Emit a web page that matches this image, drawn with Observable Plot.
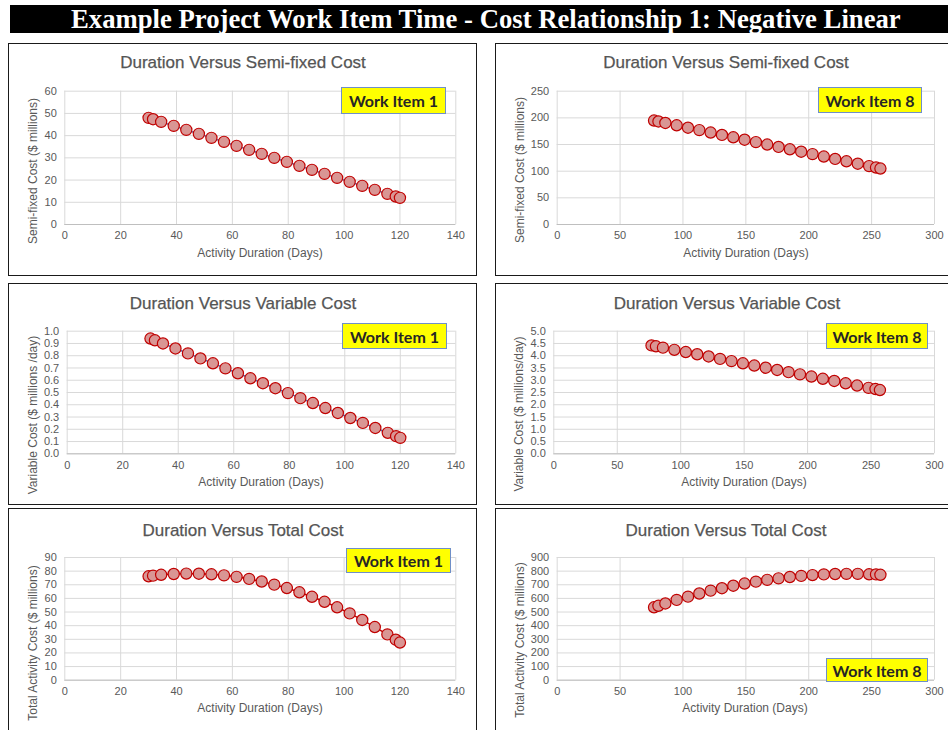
<!DOCTYPE html>
<html>
<head>
<meta charset="utf-8">
<script src="https://cdn.jsdelivr.net/npm/d3@7"></script>
<script src="https://cdn.jsdelivr.net/npm/@observablehq/plot@0.6"></script>
<style>
  html, body { margin: 0; padding: 0; background: #fff; }
  #page { position: relative; width: 948px; height: 730px; overflow: hidden; background: #fff; }
  #banner { position: absolute; left: 10px; top: 5px; width: 938px; height: 28px; background: #000; }
  #banner span { position: absolute; left: 61px; top: 0; line-height: 28px; color: #fff;
    font-family: "Liberation Serif", "Times New Roman", serif; font-weight: bold; font-size: 26.7px; white-space: nowrap; }
  .box { position: absolute; box-sizing: border-box; border: 1.5px solid #1a1a1a; background: #fff; }
  .abs { position: absolute; }
  .ttl { position: absolute; transform: translate(-50%, -50%); white-space: nowrap; color: #555;
    font-family: "Liberation Sans", Arial, sans-serif; font-size: 17px; -webkit-text-stroke: 0.25px #555; }
  .axl { position: absolute; transform: translate(-50%, -50%); white-space: nowrap; color: #595959;
    font-family: "Liberation Sans", Arial, sans-serif; font-size: 12px; }
  .ayl { position: absolute; transform: translate(-50%, -50%) rotate(-90deg); white-space: nowrap; color: #595959;
    font-family: "Liberation Sans", Arial, sans-serif; font-size: 12px; }
  .tag { position: absolute; box-sizing: border-box; background: #ffff00; border: 1px solid #6f8fc8;
    display: flex; align-items: center; justify-content: center; color: #262626;
    font-family: Lato, "Open Sans", sans-serif; font-weight: bold; font-size: 16px; white-space: nowrap; }
</style>
</head>
<body>
<div id="page">
  <div id="banner"><span>Example Project Work Item Time - Cost Relationship 1: Negative Linear</span></div>
</div>
<script>
// ---------- data ----------
const durations1 = [30, 31.6, 34.5, 39, 43.5, 48, 52.5, 57, 61.5, 66, 70.5, 75, 79.5, 84, 88.5, 93, 97.5, 102, 106.5, 111, 115.5, 118.5, 120];
const semiFixed1 = [48, 47.4, 46.2, 44.4, 42.6, 40.8, 39, 37.2, 35.4, 33.6, 31.8, 30, 28.2, 26.4, 24.6, 22.8, 21, 19.2, 17.4, 15.6, 13.8, 12.6, 12];
const variable1  = [0.94, 0.926, 0.90, 0.859, 0.819, 0.778, 0.738, 0.697, 0.657, 0.616, 0.576, 0.535, 0.495, 0.454, 0.414, 0.373, 0.333, 0.292, 0.252, 0.211, 0.171, 0.144, 0.13];
const total1     = [76.2, 76.7, 77.3, 77.9, 78.2, 78.1, 77.7, 76.9, 75.8, 74.3, 72.4, 70.1, 67.6, 64.5, 61.2, 57.5, 53.5, 49, 44.2, 39, 33.6, 29.7, 27.6];

const durations8 = [77, 80.5, 86, 95, 104, 113, 122, 131, 140, 149, 158, 167, 176, 185, 194, 203, 212, 221, 230, 239, 248, 253.5, 257];
const semiFixed8 = [195, 193.3, 190.5, 186, 181.5, 177, 172.5, 168, 163.5, 159, 154.5, 150, 145.5, 141, 136.5, 132, 127.5, 123, 118.5, 114, 109.5, 106.8, 105];
const variable8  = [4.42, 4.385, 4.33, 4.24, 4.15, 4.06, 3.97, 3.87, 3.78, 3.69, 3.60, 3.51, 3.42, 3.33, 3.24, 3.15, 3.06, 2.97, 2.875, 2.785, 2.69, 2.64, 2.60];
const total8     = [535, 546, 563, 589, 613, 636, 657, 675, 693, 709, 723, 736, 747, 757, 765, 771, 776, 779, 780, 780, 777, 776, 773];

const xTicks1 = [0, 20, 40, 60, 80, 100, 120, 140];
const xTicks8 = [0, 50, 100, 150, 200, 250, 300];
const ySemiTicks1 = [0, 10, 20, 30, 40, 50, 60];
const ySemiTicks8 = [0, 50, 100, 150, 200, 250];
const yVarTicks1 = [0, 0.1, 0.2, 0.3, 0.4, 0.5, 0.6, 0.7, 0.8, 0.9, 1.0];
const yVarTicks8 = [0, 0.5, 1, 1.5, 2, 2.5, 3, 3.5, 4, 4.5, 5];
const yTotTicks1 = [0, 10, 20, 30, 40, 50, 60, 70, 80, 90];
const yTotTicks8 = [0, 100, 200, 300, 400, 500, 600, 700, 800, 900];

const titleSemi = "Duration Versus Semi-fixed Cost";
const titleVar = "Duration Versus Variable Cost";
const titleTot = "Duration Versus Total Cost";
const xLabel = "Activity Duration (Days)";

// ---------- layout ----------
const panels = [
  {box: [8, 43, 469, 233], frame: [64.3, 455.3, 90.7, 224], xs: durations1, ys: semiFixed1, xTicks: xTicks1, yTicks: ySemiTicks1, fmt: d3.format("d"),
   line: "#4472c4", title: titleSemi, tc: [243, 63], ylab: "Semi-fixed Cost ($ millions)", yl: [33, 171], xl: [260, 253], tag: "Work Item 1", tg: [341, 87, 105, 27]},
  {box: [495, 43, 460, 233], frame: [556.7, 934, 90.7, 224], xs: durations8, ys: semiFixed8, xTicks: xTicks8, yTicks: ySemiTicks8, fmt: d3.format("d"),
   line: "#4472c4", title: titleSemi, tc: [726, 63], ylab: "Semi-fixed Cost ($ millions)", yl: [519.5, 170], xl: [746, 253], tag: "Work Item 8", tg: [818, 87, 104, 26]},
  {box: [8, 283, 469, 222], frame: [66.7, 455.3, 330.7, 453.3], xs: durations1, ys: variable1, xTicks: xTicks1, yTicks: yVarTicks1, fmt: d3.format(".1f"),
   line: "#4472c4", title: titleVar, tc: [243, 304], ylab: "Variable Cost ($ millions /day)", yl: [33, 415], xl: [261, 482], tag: "Work Item 1", tg: [342, 323, 105, 26]},
  {box: [495, 283, 460, 222], frame: [553.3, 934, 330.7, 453.3], xs: durations8, ys: variable8, xTicks: xTicks8, yTicks: yVarTicks8, fmt: d3.format(".1f"),
   line: "#4472c4", title: titleVar, tc: [727, 304], ylab: "Variable Cost ($ millions/day)", yl: [519, 414], xl: [744, 482], tag: "Work Item 8", tg: [826, 323, 102, 26]},
  {box: [8, 508, 469, 240], frame: [64.3, 455.3, 557, 679.7], xs: durations1, ys: total1, xTicks: xTicks1, yTicks: yTotTicks1, fmt: d3.format("d"),
   line: "#c00000", title: titleTot, tc: [243, 531], ylab: "Total Activity Cost ($ millions)", yl: [32.5, 643], xl: [260, 708], tag: "Work Item 1", tg: [346, 548, 105, 25]},
  {box: [495, 508, 460, 240], frame: [556.7, 934, 557, 679.7], xs: durations8, ys: total8, xTicks: xTicks8, yTicks: yTotTicks8, fmt: d3.format("d"),
   line: "#c00000", title: titleTot, tc: [726, 531], ylab: "Total Activity Cost ($ millions)", yl: [519.5, 640], xl: [745, 708], tag: "Work Item 8", tg: [826, 658, 102, 24]}
];

const page = document.getElementById("page");
function el(cls, text, css) {
  const d = document.createElement("div");
  d.className = cls;
  if (text != null) d.textContent = text;
  Object.assign(d.style, css);
  page.appendChild(d);
  return d;
}

for (const p of panels) {
  const [bl, bt, bw, bh] = p.box;
  const [fx0, fx1, fy0, fy1] = p.frame;
  el("box", null, {left: bl + "px", top: bt + "px", width: bw + "px", height: bh + "px"});
  const data = p.xs.map((x, i) => ({x, y: p.ys[i]}));
  const w = Math.min(bw, 948 - bl);
  const chart = Plot.plot({
    width: w,
    height: bh,
    marginLeft: fx0 - bl,
    marginRight: (bl + w) - fx1,
    marginTop: fy0 - bt,
    marginBottom: (bt + bh) - fy1,
    style: {fontFamily: "'Liberation Sans', Arial, sans-serif", fontSize: "11px", color: "#595959", background: "transparent", overflow: "visible"},
    x: {domain: [p.xTicks[0], p.xTicks[p.xTicks.length - 1]]},
    y: {domain: [p.yTicks[0], p.yTicks[p.yTicks.length - 1]]},
    marks: [
      Plot.gridX(p.xTicks, {stroke: "#d9d9d9", strokeOpacity: 1, strokeWidth: 1}),
      Plot.gridY(p.yTicks, {stroke: "#d9d9d9", strokeOpacity: 1, strokeWidth: 1}),
      Plot.ruleY([p.yTicks[0]], {stroke: "#bfbfbf", strokeWidth: 1}),
      Plot.axisX({ticks: p.xTicks, tickSize: 0, tickPadding: 7, label: null, fill: "#595959"}),
      Plot.axisY({ticks: p.yTicks, tickSize: 0, tickPadding: 8, label: null, tickFormat: p.fmt, fill: "#595959"}),
      Plot.line(data, {x: "x", y: "y", stroke: p.line, strokeWidth: 1.5}),
      Plot.dot(data, {x: "x", y: "y", r: 5.6, fill: "#d99694", stroke: "#c00000", strokeWidth: 1.2})
    ]
  });
  const holder = el("abs", null, {left: bl + "px", top: bt + "px", width: w + "px", height: bh + "px"});
  holder.appendChild(chart);
  el("ttl", p.title, {left: p.tc[0] + "px", top: p.tc[1] + "px"});
  el("axl", xLabel, {left: p.xl[0] + "px", top: p.xl[1] + "px"});
  el("ayl", p.ylab, {left: p.yl[0] + "px", top: p.yl[1] + "px"});
  el("tag", p.tag, {left: p.tg[0] + "px", top: p.tg[1] + "px", width: p.tg[2] + "px", height: p.tg[3] + "px"});
}
</script>
</body>
</html>
